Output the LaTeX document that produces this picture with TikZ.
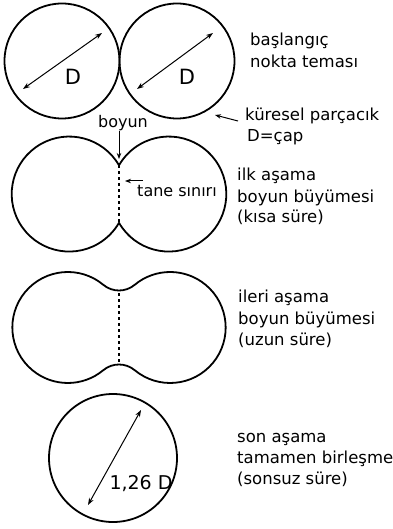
\documentclass[tikz,border=0pt]{standalone}
\usepackage{fontspec}
\setmainfont{DejaVu Sans}
\usetikzlibrary{arrows.meta,calc}
\begin{document}
\begin{tikzpicture}[x=1pt,y=-1pt,
  shapeline/.style={line width=1.8pt, draw=black},
  ball/.style={circle, shapeline, inner sep=0pt, outer sep=0pt},
  dia/.style={line width=1pt, black, {Stealth[length=7pt,width=5pt]}-{Stealth[length=7pt,width=5pt]}},
  ptr/.style={line width=1pt, black, -{Stealth[length=6pt,width=4.5pt]}},
  gbline/.style={line width=1.6pt, black, dash pattern=on 2.5pt off 3.5pt},
  lbl/.style={font=\fontsize{16.5}{19}\selectfont, anchor=mid west, inner sep=0pt, text=black},
  small/.style={font=\fontsize{16}{19}\selectfont, inner sep=0pt, text=black},
  big/.style={font=\fontsize{21}{24}\selectfont, inner sep=0pt, text=black}
]
\useasboundingbox (0,0) rectangle (392,529);
\fill[white] (0,0) rectangle (392,529);

% ---------- stage 1: point contact ----------
\node[ball, minimum size=115pt] (c1) at (62,61) {};
\node[ball, minimum size=115pt] (c2) at (177,61) {};
\coordinate (c1a) at ($(c1.center)+(-39,28)$);
\coordinate (c1b) at ($(c1.center)+(40,-28)$);
\coordinate (c2a) at ($(c2.center)+(-40,28)$);
\coordinate (c2b) at ($(c2.center)+(36,-28)$);
\draw[dia] (c1a) -- (c1b);
\draw[dia] (c2a) -- (c2b);
\node[big] (d1) at (73,77) {D};
\node[big] (d2) at (187,77) {D};

\node[lbl] (t1a) at (250,43) {başlangıç};
\node[lbl] (t1b) at (250,65) {nokta teması};
\node[lbl] (kp) at (245,118) {küresel parçacık};
\node[lbl] (dc) at (247,139) {D=çap};
\coordinate (kpfrom) at (238,121);
\coordinate (kpto) at (215,115);
\draw[ptr] (kpfrom) -- (kpto);

% ---------- stage 2: initial neck growth ----------
\coordinate (n2t) at (119,165.3);
\coordinate (n2b) at (119,222.7);
\draw[shapeline] (n2t) arc[start angle=-30, end angle=-330, radius=57.5]
  arc[start angle=150, end angle=-150, radius=57.5] -- cycle;
\draw[gbline] (n2t) -- (n2b);
\node[small, anchor=mid] (boyun) at (123,125) {boyun};
\coordinate (n2tip) at (119,159);
\draw[ptr] (boyun.south -| n2t) -- (n2tip);
\node[small, anchor=mid] (tane) at (177,194) {tane sınırı};
\coordinate (tfrom) at (143,181);
\coordinate (tto) at (125,181);
\draw[ptr] (tfrom) -- (tto);

\node[lbl] (t2a) at (237,178) {ilk aşama};
\node[lbl] (t2b) at (237,200) {boyun büyümesi};
\node[lbl] (t2c) at (237,220) {(kısa süre)};

% ---------- stage 3: advanced neck growth ----------
\coordinate (n3s) at (103.33,284.83);
\draw[shapeline] (n3s)
  arc[start angle=-50.24, end angle=-309.76, radius=55.5]
  arc[start angle=-129.76, end angle=-50.24, radius=24.5]
  arc[start angle=129.76, end angle=-129.76, radius=55.5]
  arc[start angle=50.24, end angle=129.76, radius=24.5] -- cycle;
\coordinate (n3t) at (119,293);
\coordinate (n3b) at (119,362);
\draw[gbline] (n3t) -- (n3b);

\node[lbl] (t3a) at (238,300) {ileri aşama};
\node[lbl] (t3b) at (238,322) {boyun büyümesi};
\node[lbl] (t3c) at (238,343) {(uzun süre)};

% ---------- stage 4: full densification ----------
\node[ball, minimum size=128pt] (c4) at (113,458) {};
\coordinate (c4a) at ($(c4.center)+(-25,47)$);
\coordinate (c4b) at ($(c4.center)+(28,-48)$);
\draw[dia] (c4a) -- (c4b);
\node[font=\fontsize{19}{22}\selectfont, inner sep=0pt, text=black] (l126) at (141,484) {1,26 D};

\node[lbl] (t4a) at (237,440) {son aşama};
\node[lbl] (t4b) at (237,461) {tamamen birleşme};
\node[lbl] (t4c) at (237,482) {(sonsuz süre)};
\end{tikzpicture}
\end{document}
